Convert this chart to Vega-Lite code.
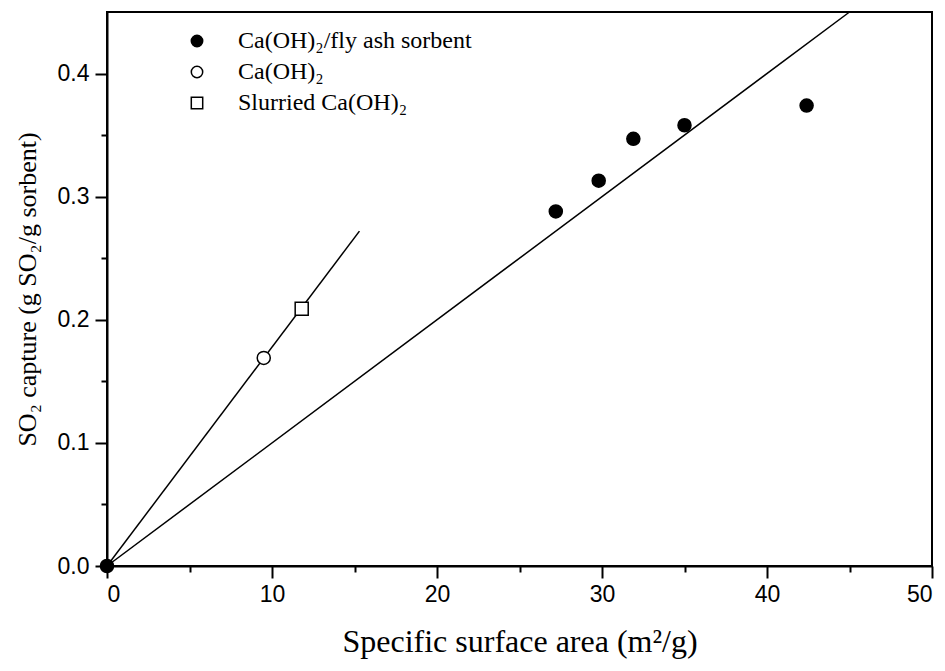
{
  "$schema": "https://vega.github.io/schema/vega-lite/v6.json",
  "width": 825,
  "height": 554,
  "autosize": {"type": "none"},
  "padding": {"left": 107, "top": 12, "right": 13, "bottom": 105},
  "background": "white",
  "config": {
    "view": {"stroke": "black", "strokeWidth": 2},
    "axis": {
      "grid": false,
      "domainColor": "black",
      "domainWidth": 2,
      "tickColor": "black",
      "tickWidth": 2,
      "labelFont": "Liberation Sans",
      "labelFontSize": 23,
      "labelColor": "black",
      "titleFont": "Liberation Serif",
      "titleFontWeight": "normal",
      "titleColor": "black"
    }
  },
  "datasets": {
    "points": [
      {"series": "Ca(OH)₂/fly ash sorbent", "x": 0, "y": 0},
      {"series": "Ca(OH)₂/fly ash sorbent", "x": 27.2, "y": 0.288},
      {"series": "Ca(OH)₂/fly ash sorbent", "x": 29.8, "y": 0.313},
      {"series": "Ca(OH)₂/fly ash sorbent", "x": 31.9, "y": 0.347},
      {"series": "Ca(OH)₂/fly ash sorbent", "x": 35.0, "y": 0.358},
      {"series": "Ca(OH)₂/fly ash sorbent", "x": 42.4, "y": 0.374},
      {"series": "Ca(OH)₂", "x": 9.5, "y": 0.169},
      {"series": "Slurried Ca(OH)₂", "x": 11.8, "y": 0.209}
    ],
    "lines": [
      {"line": "a", "x": 0, "y": 0},
      {"line": "a", "x": 15.3, "y": 0.272},
      {"line": "b", "x": 0, "y": 0},
      {"line": "b", "x": 45, "y": 0.45}
    ]
  },
  "layer": [
    {
      "data": {"name": "lines"},
      "mark": {"type": "line", "color": "black", "strokeWidth": 1.5},
      "encoding": {
        "x": {
          "field": "x", "type": "quantitative",
          "scale": {"domain": [0, 50], "nice": false},
          "axis": {
            "title": "Specific surface area (m²/g)",
            "titleFontSize": 32,
            "values": [0, 5, 10, 15, 20, 25, 30, 35, 40, 45, 50],
            "labelExpr": "datum.value % 10 === 0 ? datum.label : ''",
            "tickSize": {"condition": {"test": "datum.value % 10 === 0", "value": 12}, "value": 6},
            "labelPadding": 5,
            "titlePadding": 20
          }
        },
        "y": {
          "field": "y", "type": "quantitative",
          "scale": {"domain": [0, 0.45], "nice": false},
          "axis": {
            "title": "SO₂ capture (g SO₂/g sorbent)",
            "titleFontSize": 26,
            "values": [0, 0.05, 0.1, 0.15, 0.2, 0.25, 0.3, 0.35, 0.4],
            "format": ".1f",
            "labelExpr": "round(datum.value * 100) % 10 === 0 ? datum.label : ''",
            "tickSize": {"condition": {"test": "round(datum.value * 100) % 10 === 0", "value": 12}, "value": 6},
            "labelPadding": 6,
            "titlePadding": 17
          }
        },
        "detail": {"field": "line"}
      }
    },
    {
      "data": {"name": "points"},
      "mark": {"type": "point", "stroke": "black", "strokeWidth": 1.5, "opacity": 1, "fillOpacity": 1, "size": 170},
      "encoding": {
        "x": {"field": "x", "type": "quantitative"},
        "y": {"field": "y", "type": "quantitative"},
        "shape": {
          "field": "series", "type": "nominal",
          "scale": {"domain": ["Ca(OH)₂/fly ash sorbent", "Ca(OH)₂", "Slurried Ca(OH)₂"], "range": ["circle", "circle", "square"]},
          "legend": {
            "title": null,
            "orient": "none",
            "legendX": 78,
            "legendY": 17,
            "labelFont": "Liberation Serif",
            "labelFontSize": 24,
            "labelColor": "black",
            "labelLimit": 0,
            "labelOffset": 29,
            "rowPadding": 7,
            "symbolSize": 130,
            "encode": {"symbols": {"update": {"stroke": {"value": "black"}, "strokeWidth": {"value": 1.5}}}}
          }
        },
        "fill": {
          "field": "series", "type": "nominal",
          "scale": {"domain": ["Ca(OH)₂/fly ash sorbent", "Ca(OH)₂", "Slurried Ca(OH)₂"], "range": ["black", "white", "white"]},
          "legend": {
            "title": null,
            "orient": "none",
            "legendX": 78,
            "legendY": 17,
            "labelFont": "Liberation Serif",
            "labelFontSize": 24,
            "labelColor": "black",
            "labelLimit": 0,
            "labelOffset": 29,
            "rowPadding": 7,
            "symbolSize": 130,
            "encode": {"symbols": {"update": {"stroke": {"value": "black"}, "strokeWidth": {"value": 1.5}}}}
          }
        }
      }
    }
  ]
}
